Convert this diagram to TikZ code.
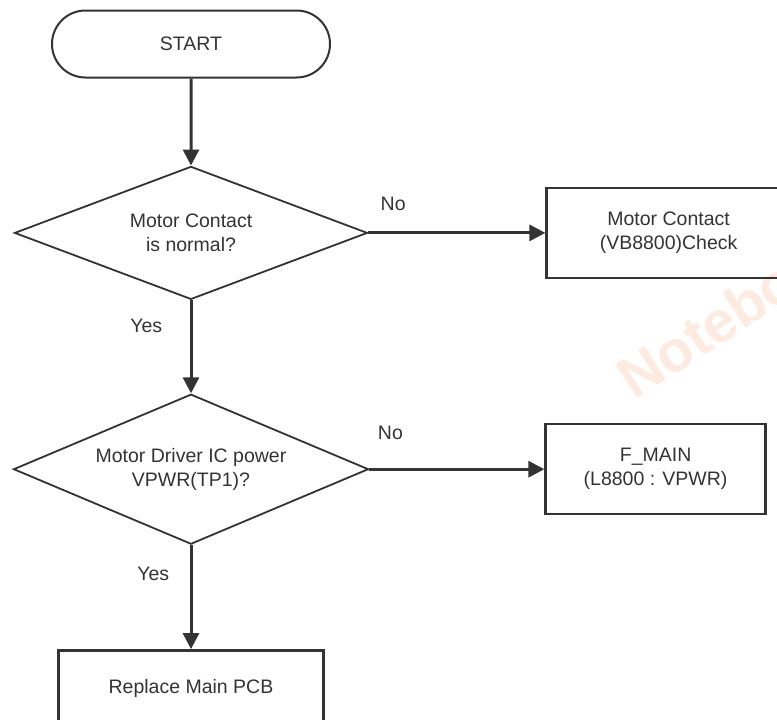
\documentclass[tikz,border=0pt]{standalone}
\usepackage{fontspec}
\setmainfont{Liberation Sans}
\usetikzlibrary{shapes,arrows.meta,positioning,calc}

\definecolor{inkgray}{RGB}{51,51,51}
\definecolor{markorange}{RGB}{253,234,224}

\begin{document}
\begin{tikzpicture}[
    x=1pt, y=-1pt,
    font=\fontsize{19.5}{24}\selectfont,
    text=inkgray,
    terminal/.style={rounded rectangle, draw=inkgray, line width=2pt, minimum width=278pt, minimum height=67pt, inner sep=0pt},
    decision/.style={diamond, draw=inkgray, line width=1.8pt, align=center, inner sep=0pt},
    block/.style={rectangle, draw=inkgray, line width=2.4pt, align=center, inner sep=0pt},
    line/.style={draw=inkgray, -{Triangle[length=16pt,width=16pt]}, line width=3pt},
    watermark/.style={text=markorange, font=\fontsize{58}{58}\bfseries\selectfont, inner sep=0pt}
]
    \path[use as bounding box, clip] (0,0) rectangle (777,720);

    % watermark
    \node [watermark, rotate=33, anchor=base west] (mark) at (634,401) {Notebo};

    \node [terminal] (start) at (191,44) {START};
    \node [decision, aspect=2.65, minimum width=353pt, minimum height=133pt, below=87pt of start] (contact) {Motor Contact\\is normal?};
    \node [block, minimum width=244pt, minimum height=90pt, right=177pt of contact] (vbcheck) {Motor Contact\\(VB8800)Check};
    \node [decision, aspect=2.37, minimum width=355pt, minimum height=150pt, below=93pt of contact] (power) {Motor Driver IC power\\VPWR(TP1)?};
    \node [block, minimum width=220pt, minimum height=90pt, right=175pt of power] (fmain) {F\_MAIN\\(L8800 : VPWR)};
    \node [block, minimum width=265pt, minimum height=76pt, below=104pt of power] (pcb) {Replace Main PCB};

    \draw [line] (start) -- (contact);
    \draw [line] (contact) -- node[pos=0.14, above=17pt] {No} (vbcheck);
    \draw [line] (contact) -- node[pos=0.27, left=24pt] {Yes} (power);
    \draw [line] (power) -- node[pos=0.12, above=25pt] {No} (fmain);
    \draw [line] (power) -- node[pos=0.28, left=17pt] {Yes} (pcb);
\end{tikzpicture}
\end{document}
